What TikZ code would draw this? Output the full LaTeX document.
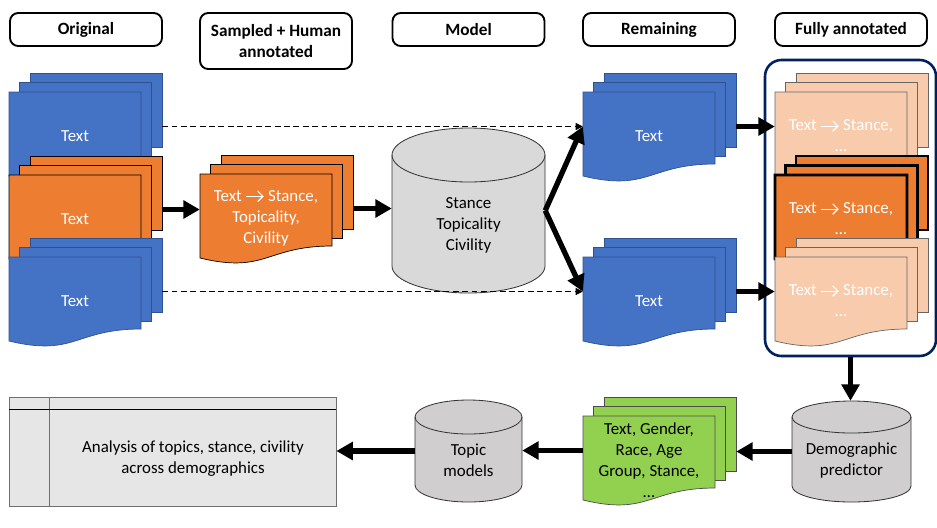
\documentclass[tikz,border=0pt]{standalone}
\usepackage{fontspec}
\setmainfont{Carlito}
\usetikzlibrary{positioning,arrows.meta,calc}

\definecolor{docblue}{HTML}{4472C4}
\definecolor{docblueline}{HTML}{2F528F}
\definecolor{docorange}{HTML}{ED7D31}
\definecolor{docpeach}{HTML}{F8CBAD}
\definecolor{docgreen}{HTML}{92D050}
\definecolor{dbgray}{HTML}{D9D9D9}
\definecolor{dbgraydark}{HTML}{D0CECE}
\definecolor{tablegray}{HTML}{E7E6E6}
\definecolor{tableline}{HTML}{6F6F6F}
\definecolor{navy}{HTML}{002060}

% one unit = one pixel of the layout
\newcommand{\pxu}{0.03cm}
\newcommand{\toarrow}{\tikz[baseline=-0.6ex]\draw[white, line width=1pt,
  -{Straight Barb[length=4.5pt,width=9pt]}] (0pt,0pt) -- (15pt,0pt);}

% pages of a document stack
\newcommand{\backpage}[3]{\draw[#1] (#2,#3) rectangle ++(132,74);}
\newcommand{\frontpage}[3]{\draw[#1] (#2,#3) -- ++(132,0) -- ++(0,72)
  .. controls +(-66,0) and +(66,16) .. ++(-132,12) -- cycle;}
% name, x, y (front page top left), page style, text colour, text
\newcommand{\docstack}[6]{%
  \backpage{#4}{#2+21}{#3-19}
  \backpage{#4}{#2+10.5}{#3-9.5}
  \frontpage{#4}{#2}{#3}
  \node[stackbox] (#1) at (#2+76.5,#3+34.5) {};
  \node[stacktext, text=#5] (#1txt) at (#2+66,#3+44) {#6};}
% name, centre x, top, x radius, y radius, bottom, fill
\newcommand{\dbcyl}[7]{%
  \draw[cylline, fill=#7] (#2-#4,#3+#5) -- (#2-#4,#6-#5)
    arc[start angle=180, end angle=0, x radius=#4, y radius=#5]
    -- (#2+#4,#3+#5)
    arc[start angle=0, end angle=-180, x radius=#4, y radius=#5] -- cycle;
  \draw[cylline] (#2-#4,#3+#5)
    arc[start angle=180, end angle=0, x radius=#4, y radius=#5];
  \node[stackbox, minimum width=2*#4*\pxu, minimum height=(#6-#3)*\pxu] (#1)
    at (#2,#3/2+#6/2) {};}

\begin{document}
\begin{tikzpicture}[x=\pxu, y=-\pxu,
  header/.style={draw, line width=1.6pt, rounded corners=7pt,
                 minimum width=152*\pxu, minimum height=33*\pxu, inner sep=1pt,
                 align=center, font=\fontsize{14.7}{17.9}\selectfont\bfseries},
  stackbox/.style={minimum width=153*\pxu, minimum height=107*\pxu, inner sep=0pt},
  stacktext/.style={align=center, inner sep=0pt, font=\fontsize{14.4}{17.9}\selectfont},
  dbtext/.style={align=center, inner sep=0pt, font=\fontsize{14.4}{17.9}\selectfont},
  bluepg/.style={fill=docblue, draw=docblueline, line width=0.6pt},
  orangepg/.style={fill=docorange, draw=black, line width=0.6pt},
  boldpg/.style={fill=docorange, draw=black, line width=2.4pt},
  peachpg/.style={fill=docpeach, draw=black!60, line width=0.6pt},
  greenpg/.style={fill=docgreen, draw=black!70, line width=0.6pt},
  cylline/.style={draw=black!80, line width=0.7pt},
  flow/.style={line width=4.5pt, -{Triangle[length=14pt,width=15pt]}},
  bypass/.style={line width=0.8pt, dash pattern=on 5pt off 3pt,
                 -{Triangle[length=6pt,width=6pt]}}
]
  \useasboundingbox (0,0) rectangle (937,527);

  % Stage headers
  \node[header] (hdorig)   at (86,29.5)  {Original};
  \node[header, minimum height=56*\pxu] (hdsample) at (276,41) {Sampled + Human\\annotated};
  \node[header] (hdmodel)  at (468.5,29.5) {Model};
  \node[header] (hdremain) at (659,29.5) {Remaining};
  \node[header] (hdfull)   at (851,29.5) {Fully annotated};

  % Fully annotated frame
  \node[draw=navy, line width=2.2pt, rounded corners=14pt,
        minimum width=171*\pxu, minimum height=296*\pxu] (fullbox) at (850.5,208) {};

  % Original texts
  \docstack{orig1}{9}{92}{bluepg}{white}{Text}
  \docstack{orig2}{9}{175}{orangepg}{white}{Text}
  \docstack{orig3}{9}{257}{bluepg}{white}{Text}

  % Sampled + annotated
  \docstack{sample}{200}{174}{orangepg}{white}{Text \toarrow{} Stance,\\Topicality,\\Civility}

  % Model
  \dbcyl{model}{468.5}{128}{76.5}{27}{293}{dbgray}
  \node[dbtext] (modeltxt) at (468.5,225) {Stance\\Topicality\\Civility};

  % Remaining texts
  \docstack{rem1}{583}{92}{bluepg}{white}{Text}
  \docstack{rem2}{583}{257}{bluepg}{white}{Text}

  % Fully annotated texts
  \docstack{full1}{775}{92}{peachpg}{white}{Text \toarrow{} Stance,\\…}
  \docstack{full2}{775}{175}{boldpg}{white}{Text \toarrow{} Stance,\\…}
  \docstack{full3}{775}{257}{peachpg}{white}{Text \toarrow{} Stance,\\…}

  % Bottom row
  \dbcyl{demo}{851.5}{401}{59.5}{16}{502}{dbgraydark}
  \node[dbtext] (demotxt) at (851.5,460.5) {Demographic\\predictor};
  \docstack{demog}{583}{416}{greenpg}{black}{Text, Gender,\\Race, Age\\Group, Stance,\\…}
  \dbcyl{topic}{468.5}{400}{53.5}{17}{502}{dbgraydark}
  \node[dbtext] (topictxt) at (468.5,460.5) {Topic\\models};
  \node[draw=tableline, fill=tablegray, line width=0.7pt,
        minimum width=327*\pxu, minimum height=109*\pxu] (analysis) at (172.5,451.5) {};
  \draw[tableline, line width=0.7pt] (analysis.north west) ++(41,0) -- ++(0,109);
  \draw[black, line width=0.7pt] (analysis.north west) ++(0,13) -- ++(327,0);
  \node[dbtext] (analysistxt) at (193,459) {Analysis of topics, stance, civility\\across demographics};

  % Connectors
  \draw[bypass] (orig1.east) -- (rem1.west);
  \draw[bypass] (orig3.east) -- (rem2.west);
  \draw[flow] (orig2.east) -- (orig2.east -| sample.west);
  \draw[flow] (sample.east) -- (sample.east -| model.west);
  \draw[flow] (model.east) -- (rem1.west);
  \draw[flow] (model.east) -- (rem2.west);
  \draw[flow] (rem1.east) -- (full1.west);
  \draw[flow] (rem2.east) -- (full3.west);
  \draw[flow] (fullbox.south) -- (fullbox.south |- demo.north);
  \draw[flow] (demo.west) -- (demo.west -| demog.east);
  \draw[flow] (demog.west) -- (demog.west -| topic.east);
  \draw[flow] (topic.west) -- (topic.west -| analysis.east);
\end{tikzpicture}
\end{document}
